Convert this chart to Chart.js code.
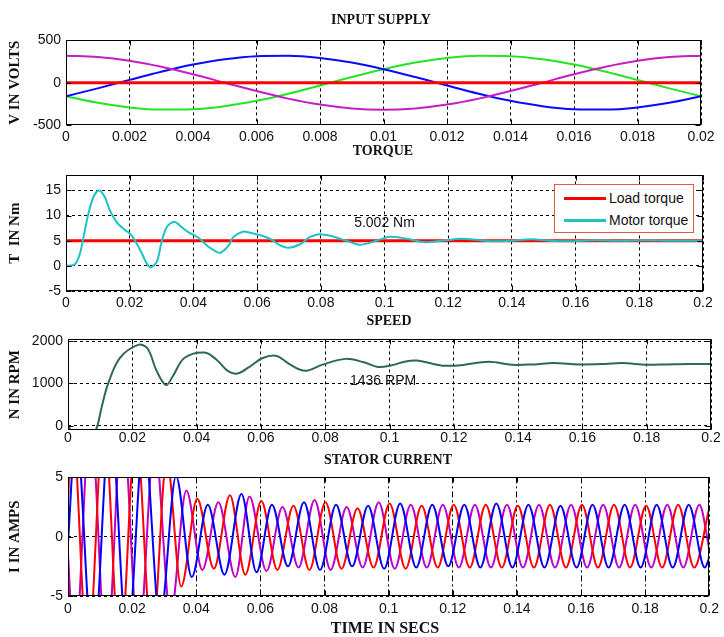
<!DOCTYPE html>
<html>
<head>
<meta charset="utf-8">
<script src="https://cdn.jsdelivr.net/npm/chart.js@4.4.1/dist/chart.umd.min.js"></script>
<style>
body { margin: 0; background: #fff; }
#wrap { position: relative; width: 724px; height: 637px; overflow: hidden; background: #fff; }
#wrap canvas { position: absolute; left: 0; }
.ttl { position: absolute; width: 300px; text-align: center; font: bold 14px "Liberation Serif", serif; line-height: 16px; color: #111; }
#legend { position: absolute; left: 554px; top: 184px; width: 138px; height: 47px; border: 1px solid #e8583c; background: #fff; }
#legend .sw { position: absolute; left: 9px; width: 42px; height: 3px; }
#legend .lb { position: absolute; left: 54px; font: 14px "Liberation Sans", Arial, sans-serif; line-height: 16px; color: #111; white-space: nowrap; }
</style>
</head>
<body>
<div id="wrap">
  <canvas id="supply"></canvas>
  <canvas id="torque"></canvas>
  <canvas id="speed"></canvas>
  <canvas id="current"></canvas>
  <div class="ttl" style="left:231px;top:12px">INPUT SUPPLY</div>
  <div class="ttl" style="left:233px;top:143px">TORQUE</div>
  <div class="ttl" style="left:239px;top:313px">SPEED</div>
  <div class="ttl" style="left:238px;top:452px">STATOR CURRENT</div>
  <div class="ttl" style="left:235px;top:619px;font-size:16px;line-height:18px">TIME IN SECS</div>
  <div id="legend">
    <div class="sw" style="top:12px;background:#ff0000"></div>
    <div class="lb" style="top:5px">Load torque</div>
    <div class="sw" style="top:34px;background:#1cc4c4"></div>
    <div class="lb" style="top:27px">Motor torque</div>
  </div>
</div>
<script>
// ---- input supply (one cycle, volts) ----
var supplyTime = [0, 0.001, 0.002, 0.003, 0.004, 0.005, 0.006, 0.007, 0.008, 0.009, 0.01,
                  0.011, 0.012, 0.013, 0.014, 0.015, 0.016, 0.017, 0.018, 0.019, 0.02];
var supplyMagenta = [320, 304, 259, 188, 99, 0, -99, -188, -259, -304, -320,
                     -304, -259, -188, -99, 0, 99, 188, 259, 304, 320];
var supplyBlue = [-160, -67, 33, 130, 214, 277, 313, 318, 292, 238, 160,
                  67, -33, -130, -214, -277, -313, -318, -292, -238, -160];
var supplyGreen = [-160, -238, -292, -318, -313, -277, -214, -130, -33, 67, 160,
                   238, 292, 318, 313, 277, 214, 130, 33, -67, -160];
var supplyRefTime = [0, 0.02];
var supplyRef = [0, 0];

// ---- torque (Nm) ----
var torqueTime = [0, 0.0028, 0.0044, 0.0054, 0.007, 0.0086, 0.0103, 0.0122, 0.0138, 0.0159, 0.018,
                  0.0201, 0.0217, 0.0238, 0.0253, 0.0266, 0.0285, 0.030, 0.0316, 0.034, 0.0363, 0.0384,
                  0.0405, 0.042, 0.0447, 0.0473, 0.0485, 0.051, 0.0525, 0.0555, 0.0578, 0.0604, 0.064,
                  0.0675, 0.070, 0.0735, 0.0765, 0.0795, 0.083, 0.088, 0.0923, 0.097, 0.1017, 0.107,
                  0.1125, 0.118, 0.124, 0.129, 0.1336, 0.140, 0.146, 0.152, 0.158, 0.166, 0.174, 0.182,
                  0.19, 0.2];
var motorTorque = [0, 0.3, 2.5, 5.4, 10.3, 13.7, 15, 13.7, 11, 8.7, 7.4,
                   6.4, 5.0, 2.5, 0.5, -0.3, 0.8, 4.7, 7.7, 8.8, 7.7, 6.7,
                   6.0, 5.4, 3.8, 2.8, 2.6, 4.0, 5.7, 6.8, 6.6, 6.2, 5.4,
                   4.0, 3.6, 4.3, 5.7, 6.3, 6.0, 5.0, 4.2, 4.9, 5.8, 5.4,
                   4.7, 5.0, 5.4, 5.2, 4.9, 5.0, 5.3, 5.0, 4.9, 5.1, 5.0, 5.1,
                   5.0, 5.0];
var loadTime = [0, 0.2];
var loadTorque = [5, 5];

// ---- speed (rpm) ----
var speedTime = [0, 0.003, 0.0065, 0.0087, 0.0105, 0.0125, 0.0161, 0.0218, 0.0247, 0.0276,
                 0.0305, 0.0326, 0.0362, 0.0425, 0.0462, 0.0498, 0.0527, 0.0562, 0.0606, 0.0649,
                 0.0684, 0.072, 0.0746, 0.0792, 0.0863, 0.092, 0.0964, 0.1007, 0.105, 0.1086,
                 0.1136, 0.1165, 0.1222, 0.1308, 0.138, 0.145, 0.151, 0.159, 0.167, 0.1723,
                 0.18, 0.1863, 0.193, 0.2];
var speedRpm = [0, -300, -300, -100, 450, 1000, 1600, 1910, 1830, 1290,
                960, 1170, 1600, 1730, 1560, 1290, 1235, 1380, 1600, 1650,
                1480, 1330, 1305, 1445, 1580, 1500, 1390, 1430, 1520, 1540,
                1460, 1420, 1430, 1510, 1440, 1450, 1480, 1450, 1460, 1480,
                1440, 1450, 1460, 1460];

// ---- stator current (A), turning points of each phase ----
var iRedTime = [0, 0.0012, 0.0062, 0.0112, 0.0162, 0.0212, 0.0262, 0.0308, 0.0353, 0.0403, 0.0455,
                0.0505, 0.0553, 0.0603, 0.0653, 0.0703, 0.0753, 0.0803, 0.0853, 0.0903, 0.0953,
                0.1003, 0.1053, 0.1103, 0.1153, 0.1203, 0.1253, 0.1303, 0.1353, 0.1403, 0.1453,
                0.1503, 0.1553, 0.1603, 0.1653, 0.1703, 0.1753, 0.1803, 0.1853, 0.1903, 0.1953, 0.2];
var iRed = [2.8, 10, -10, 10, -10, 9, -9, 6.5, -4.2, 3.2, -2.7,
            3.5, -3.2, 3.0, -2.8, 2.6, -2.8, 2.9, -2.7, 2.4, -2.6,
            2.8, -2.7, 2.6, -2.6, 2.7, -2.6, 2.7, -2.6, 2.6, -2.6,
            2.7, -2.6, 2.7, -2.6, 2.7, -2.6, 2.6, -2.6, 2.7, -2.6, 2.4];
var iBlueTime = [0, 0.0025, 0.0078, 0.0132, 0.0185, 0.0237, 0.0287, 0.0337, 0.0386, 0.0436, 0.0488,
                 0.0541, 0.0588, 0.0636, 0.0686, 0.0736, 0.0786, 0.0836, 0.0886, 0.0936, 0.0986,
                 0.1036, 0.1086, 0.1136, 0.1186, 0.1236, 0.1286, 0.1336, 0.1386, 0.1436, 0.1486,
                 0.1536, 0.1586, 0.1636, 0.1686, 0.1736, 0.1786, 0.1836, 0.1886, 0.1936, 0.1986, 0.2];
var iBlue = [-0.5, 9, -10, 10, -9, 8.5, -7, 5.1, -3.4, 2.7, -3.2,
             3.6, -3.0, 2.7, -2.5, 2.9, -2.8, 2.7, -2.5, 2.6, -2.7,
             2.8, -2.6, 2.7, -2.5, 2.7, -2.6, 2.8, -2.6, 2.7, -2.6,
             2.6, -2.6, 2.7, -2.6, 2.7, -2.6, 2.7, -2.6, 2.7, -2.6, -1.8];
var iMagTime = [0, 0.002, 0.007, 0.012, 0.017, 0.022, 0.027, 0.032, 0.0369, 0.0419, 0.0469,
                0.0522, 0.0566, 0.0619, 0.0669, 0.0719, 0.0769, 0.0819, 0.0869, 0.0919, 0.0969,
                0.1019, 0.1069, 0.1119, 0.1169, 0.1219, 0.1269, 0.1319, 0.1369, 0.1419, 0.1469,
                0.1519, 0.1569, 0.1619, 0.1669, 0.1719, 0.1769, 0.1819, 0.1869, 0.1919, 0.1969, 0.2];
var iMag = [-1.5, -10, 10, -10, 10, -9, 8, -6.5, 3.9, -2.8, 2.9,
            -3.4, 3.4, -2.9, 2.5, -2.6, 3.1, -2.8, 2.5, -2.6, 2.9,
            -2.7, 2.7, -2.6, 2.7, -2.6, 2.7, -2.6, 2.7, -2.6, 2.7,
            -2.6, 2.7, -2.6, 2.7, -2.6, 2.7, -2.6, 2.7, -2.6, 2.7, -1.0];

// ---- axis ticks ----
var supplyXTicks = [0, 0.002, 0.004, 0.006, 0.008, 0.01, 0.012, 0.014, 0.016, 0.018, 0.02];
var timeXTicks = [0, 0.02, 0.04, 0.06, 0.08, 0.1, 0.12, 0.14, 0.16, 0.18, 0.2];
var supplyYTicks = [-500, 0, 500];
var torqueYTicks = [-5, 0, 5, 10, 15];
var speedYTicks = [0, 1000, 2000];
var currentYTicks = [-5, 0, 5];

var tickFont = { family: '"Liberation Sans", Arial, sans-serif', size: 14 };
var titleFont = { family: '"Liberation Serif", "Times New Roman", serif', size: 15, weight: 'bold' };

function pts(xs, ys) {
    return xs.map(function(x, i) { return { x: x, y: ys[i] }; });
}

function fmt(v) {
    return String(+Number(v).toFixed(4));
}

// box round the plot area with matlab style inward ticks
var framePlugin = {
    id: 'frame',
    afterDatasetsDraw: function(chart) {
        var a = chart.chartArea, ctx = chart.ctx;
        var l = Math.round(a.left) + 0.5, r = Math.round(a.right) - 0.5;
        var t = Math.round(a.top) + 0.5, b = Math.round(a.bottom) - 0.5;
        ctx.save();
        ctx.strokeStyle = '#000';
        ctx.lineWidth = 1;
        ctx.setLineDash([]);
        ctx.strokeRect(l, t, r - l, b - t);
        ctx.beginPath();
        chart.scales.x.ticks.forEach(function(tk) {
            var px = Math.round(chart.scales.x.getPixelForValue(tk.value)) + 0.5;
            ctx.moveTo(px, b); ctx.lineTo(px, b - 5);
            ctx.moveTo(px, t); ctx.lineTo(px, t + 5);
        });
        chart.scales.y.ticks.forEach(function(tk) {
            var py = Math.round(chart.scales.y.getPixelForValue(tk.value)) + 0.5;
            ctx.moveTo(l, py); ctx.lineTo(l + 5, py);
            ctx.moveTo(r, py); ctx.lineTo(r - 5, py);
        });
        ctx.stroke();
        ctx.restore();
    }
};

// text note placed at data coordinates
var notePlugin = {
    id: 'note',
    afterDatasetsDraw: function(chart, args, opts) {
        if (!opts || !opts.text) return;
        var ctx = chart.ctx;
        ctx.save();
        ctx.font = '14px "Liberation Sans", Arial, sans-serif';
        ctx.fillStyle = '#111';
        ctx.textAlign = 'center';
        ctx.textBaseline = 'middle';
        ctx.fillText(opts.text, chart.scales.x.getPixelForValue(opts.x), chart.scales.y.getPixelForValue(opts.y));
        ctx.restore();
    }
};

function makePanel(id, box, cfg) {
    var padTop = 12, axisH = 24;
    var cv = document.getElementById(id);
    cv.width = 724;
    cv.height = box.bottom - box.top + padTop + axisH;
    cv.style.top = (box.top - padTop) + 'px';
    var xT = cfg.xTicks, yT = cfg.yTicks;
    return new Chart(cv, {
        type: 'line',
        data: { datasets: cfg.datasets },
        options: {
            responsive: false,
            animation: false,
            devicePixelRatio: 1,
            layout: { padding: { top: padTop, right: 724 - box.right, left: 0, bottom: 0 } },
            plugins: {
                legend: { display: false },
                tooltip: { enabled: false },
                note: cfg.note || {}
            },
            elements: {
                point: { radius: 0 },
                line: { cubicInterpolationMode: 'monotone', borderJoinStyle: 'round', borderCapStyle: 'round' }
            },
            scales: {
                x: {
                    type: 'linear',
                    min: xT[0],
                    max: xT[xT.length - 1],
                    afterBuildTicks: function(s) { s.ticks = xT.map(function(v) { return { value: v }; }); },
                    afterFit: function(s) { s.height = axisH; },
                    grid: { color: '#000', lineWidth: 1, drawTicks: false },
                    border: { display: false, dash: cfg.xDash || [3, 3] },
                    ticks: { padding: cfg.xPad, color: '#111', font: tickFont, maxRotation: 0, autoSkip: false, callback: fmt }
                },
                y: {
                    type: 'linear',
                    min: cfg.yMin,
                    max: cfg.yMax,
                    afterBuildTicks: function(s) { s.ticks = yT.map(function(v) { return { value: v }; }); },
                    afterFit: function(s) { s.width = box.left; },
                    grid: { display: cfg.yGrid !== false, color: '#000', lineWidth: 1, drawTicks: false },
                    border: { display: false, dash: [3, 3] },
                    ticks: { padding: 5, color: '#111', font: tickFont, autoSkip: false, callback: fmt },
                    title: { display: true, text: cfg.yTitle, color: '#111', font: titleFont, padding: { top: 6, bottom: 0 } }
                }
            }
        },
        plugins: [framePlugin, notePlugin]
    });
}

makePanel('supply', { left: 66, top: 39, right: 701, bottom: 125 }, {
    xTicks: supplyXTicks, yTicks: supplyYTicks, yMin: -500, yMax: 500, yGrid: false, xPad: 4,
    yTitle: 'V IN VOLTS',
    datasets: [
        { data: pts(supplyRefTime, supplyRef), borderColor: '#ff0000', borderWidth: 3 },
        { data: pts(supplyTime, supplyMagenta), borderColor: '#c41ec4', borderWidth: 2 },
        { data: pts(supplyTime, supplyBlue), borderColor: '#0a0aff', borderWidth: 2 },
        { data: pts(supplyTime, supplyGreen), borderColor: '#22e622', borderWidth: 2 }
    ]
});

makePanel('torque', { left: 66, top: 174, right: 703, bottom: 291 }, {
    xTicks: timeXTicks, yTicks: torqueYTicks, yMin: -5, yMax: 18, xPad: 4,
    yTitle: 'T  IN Nm',
    note: { text: '5.002 Nm', x: 0.1, y: 8.5 },
    datasets: [
        { label: 'Motor torque', data: pts(torqueTime, motorTorque), borderColor: '#1cc4c4', borderWidth: 2,
          cubicInterpolationMode: 'default', tension: 0.3 },
        { label: 'Load torque', data: pts(loadTime, loadTorque), borderColor: '#ff0000', borderWidth: 3 }
    ]
});

makePanel('speed', { left: 68, top: 338, right: 711, bottom: 430 }, {
    xTicks: timeXTicks, yTicks: speedYTicks, yMin: -100, yMax: 2040, xPad: 0,
    yTitle: 'N IN RPM',
    note: { text: '1436 RPM', x: 0.098, y: 1050 },
    datasets: [
        { data: pts(speedTime, speedRpm), borderColor: '#2e6b4c', borderWidth: 2,
          cubicInterpolationMode: 'default', tension: 0.35 }
    ]
});

makePanel('current', { left: 68, top: 476, right: 712, bottom: 596 }, {
    xTicks: timeXTicks, yTicks: currentYTicks, yMin: -5, yMax: 5, xPad: 5,
    xDash: [6, 3, 2, 3],
    yTitle: 'I IN AMPS',
    datasets: [
        { data: pts(iBlueTime, iBlue), borderColor: '#0000ff', borderWidth: 2 },
        { data: pts(iRedTime, iRed), borderColor: '#ff0000', borderWidth: 2 },
        { data: pts(iMagTime, iMag), borderColor: '#c000c0', borderWidth: 2 }
    ]
});
</script>
</body>
</html>
